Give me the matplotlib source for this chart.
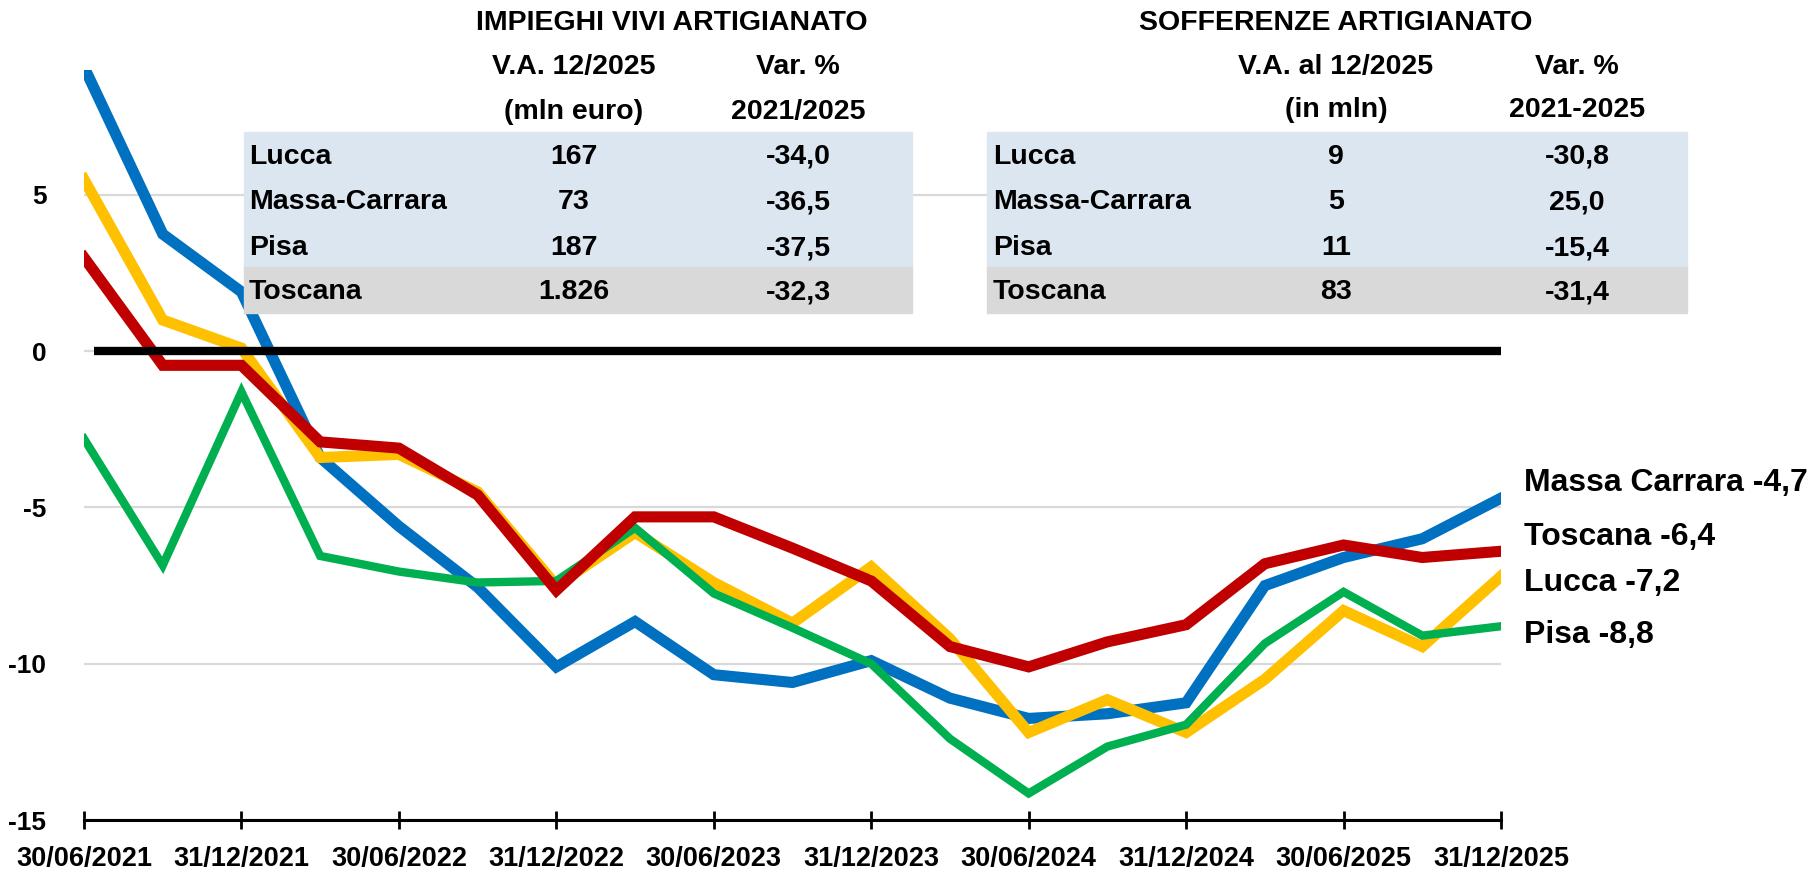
import matplotlib.pyplot as plt
from matplotlib.patches import Rectangle

plt.rcParams['font.family'] = ['Liberation Sans', 'DejaVu Sans']
plt.rcParams['font.weight'] = 'bold'

# quarterly dates (labels shown every half year)
dates = ['30/06/2021', '30/09/2021', '31/12/2021', '31/03/2022', '30/06/2022', '30/09/2022',
         '31/12/2022', '31/03/2023', '30/06/2023', '30/09/2023', '31/12/2023', '31/03/2024',
         '30/06/2024', '30/09/2024', '31/12/2024', '31/03/2025', '30/06/2025', '30/09/2025',
         '31/12/2025']

massa = [9.1, 3.75, 1.9, -3.4, -5.6, -7.55, -10.1, -8.65, -10.35, -10.6, -9.9,
         -11.1, -11.75, -11.6, -11.25, -7.5, -6.6, -6.0, -4.7]
lucca = [5.5, 1.0, 0.1, -3.4, -3.3, -4.5, -7.5, -5.8, -7.4, -8.7, -6.9,
         -9.2, -12.2, -11.15, -12.2, -10.5, -8.3, -9.45, -7.2]
pisa = [-2.8, -6.85, -1.3, -6.55, -7.05, -7.4, -7.35, -5.65, -7.75, -8.85, -10.0,
        -12.4, -14.15, -12.65, -11.95, -9.35, -7.7, -9.1, -8.8]
toscana = [3.0, -0.45, -0.45, -2.9, -3.1, -4.6, -7.65, -5.3, -5.3, -6.3, -7.35,
           -9.45, -10.1, -9.3, -8.75, -6.8, -6.2, -6.6, -6.4]

end_labels = ['Massa Carrara -4,7', 'Toscana -6,4', 'Lucca -7,2', 'Pisa -8,8']

# table data
t1_title = 'IMPIEGHI VIVI ARTIGIANATO'
t1_head = [('V.A. 12/2025', '(mln euro)'), ('Var. %', '2021/2025')]
t2_title = 'SOFFERENZE ARTIGIANATO'
t2_head = [('V.A. al 12/2025', '(in mln)'), ('Var. %', '2021-2025')]
rows = ['Lucca', 'Massa-Carrara', 'Pisa', 'Toscana']
t1_va = ['167', '73', '187', '1.826']
t1_var = ['-34,0', '-36,5', '-37,5', '-32,3']
t2_va = ['9', '5', '11', '83']
t2_var = ['-30,8', '25,0', '-15,4', '-31,4']

W, H = 1815, 871
fig = plt.figure(figsize=(W / 100, H / 100), dpi=100)
ax = fig.add_axes([84 / W, 51 / H, 1417 / W, 750 / H])

x = list(range(len(dates)))
ax.plot(x, massa, color='#0070C0', lw=8, solid_joinstyle='miter', zorder=3)
ax.plot(x, lucca, color='#FFC000', lw=8, solid_joinstyle='miter', zorder=4)
ax.plot(x, pisa, color='#00B050', lw=6, solid_joinstyle='miter', zorder=5)
ax.plot(x, toscana, color='#C00000', lw=8, solid_joinstyle='miter', zorder=6)
ax.axhline(0, xmin=0.007, color='black', lw=6, solid_capstyle='butt', zorder=7)

ax.set_xlim(0, len(dates) - 1)
ax.set_ylim(-15, 9.0)
ax.set_yticks([-15, -10, -5, 0, 5])
ax.set_yticklabels(['-15', '-10', '-5', '0', '5'], fontsize=19, fontweight='bold')
ax.tick_params(axis='y', length=0, pad=27)
ax.set_xticks(x[::2])
ax.set_xticklabels(dates[::2], fontsize=19.5, fontweight='bold')
ax.tick_params(axis='x', direction='inout', length=13, width=2, pad=12)
ax.grid(axis='y', color='#d9d9d9', lw=1.6, zorder=0)
for s in ['left', 'right', 'top']:
    ax.spines[s].set_visible(False)
ax.spines['bottom'].set_linewidth(2.2)


def fx(px):
    return px / W


def fy(py):
    return 1 - py / H


# table backgrounds
for x0, x1 in [(244, 912), (987, 1687)]:
    fig.add_artist(Rectangle((fx(x0), fy(267)), fx(x1 - x0), (267 - 132) / H,
                             transform=fig.transFigure, color='#dce6f1', zorder=10))
    fig.add_artist(Rectangle((fx(x0), fy(313)), fx(x1 - x0), (313 - 267) / H,
                             transform=fig.transFigure, color='#d9d9d9', zorder=10))

fs = 20.5
kw = dict(fontsize=fs, fontweight='bold', va='center', zorder=11)
row_y = [157, 202, 248, 292]

# table 1
fig.text(fx(672), fy(23), t1_title, ha='center', **kw)
for (l1, l2), cx in zip(t1_head, [574, 798]):
    fig.text(fx(cx), fy(67), l1, ha='center', **kw)
    fig.text(fx(cx), fy(112), l2, ha='center', **kw)
for name, va, var, ry in zip(rows, t1_va, t1_var, row_y):
    fig.text(fx(249), fy(ry), name, ha='left', **kw)
    fig.text(fx(574), fy(ry), va, ha='center', **kw)
    fig.text(fx(798), fy(ry), var, ha='center', **kw)

# table 2
fig.text(fx(1336), fy(23), t2_title, ha='center', **kw)
for (l1, l2), cx in zip(t2_head, [1336, 1577]):
    fig.text(fx(cx), fy(67), l1, ha='center', **kw)
    fig.text(fx(cx), fy(110), l2, ha='center', **kw)
for name, va, var, ry in zip(rows, t2_va, t2_var, row_y):
    fig.text(fx(993), fy(ry), name, ha='left', **kw)
    fig.text(fx(1336), fy(ry), va, ha='center', **kw)
    fig.text(fx(1577), fy(ry), var, ha='center', **kw)

# labels at line ends
for lab, ly in zip(end_labels, [483, 537, 583, 635]):
    fig.text(fx(1524), fy(ly), lab, ha='left', va='center', fontsize=23, fontweight='bold')

fig.savefig('out.png', dpi=100)
